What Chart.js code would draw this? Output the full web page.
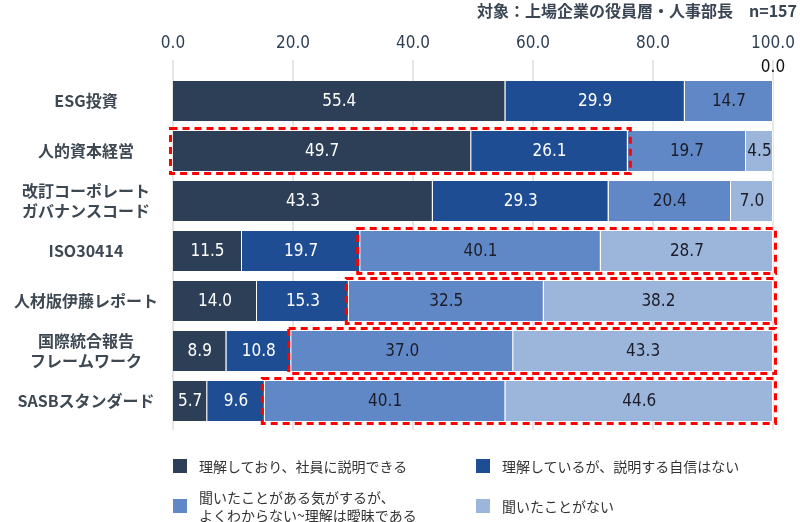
<!DOCTYPE html>
<html lang="ja">
<head>
<meta charset="utf-8">
<script src="https://cdn.jsdelivr.net/npm/chart.js@4.4.1/dist/chart.umd.min.js"></script>
<style>
  body { margin: 0; background: #fff; }
  #wrap { position: relative; width: 800px; height: 522px; }
  #title { position: absolute; right: 3px; top: 0; font: bold 16px "Noto Sans CJK JP", sans-serif; color: #3a4654; line-height: 20px; white-space: pre; }
  .lg { position: absolute; font: 14px "Noto Sans CJK JP", sans-serif; color: #333; line-height: 18px; }
  .lg i { position: absolute; width: 14px; height: 14px; left: 0; }
  .lg span { position: absolute; left: 26px; white-space: nowrap; }
</style>
</head>
<body>
<div id="wrap">
  <canvas id="chart"></canvas>
  <div id="title">対象：上場企業の役員層・人事部長　n=157</div>
  <div id="legend"></div>
</div>
<script>
var categories = ['ESG投資', '人的資本経営', ['改訂コーポレート', 'ガバナンスコード'], 'ISO30414', '人材版伊藤レポート', ['国際統合報告', 'フレームワーク'], 'SASBスタンダード'];
var seriesNames = ['理解しており、社員に説明できる', '理解しているが、説明する自信はない', '聞いたことがある気がするが、\nよくわからない~理解は曖昧である', '聞いたことがない'];
var understand = [55.4, 49.7, 43.3, 11.5, 14.0, 8.9, 5.7];
var noConfidence = [29.9, 26.1, 29.3, 19.7, 15.3, 10.8, 9.6];
var vague = [14.7, 19.7, 20.4, 40.1, 32.5, 37.0, 40.1];
var neverHeard = [0.0, 4.5, 7.0, 28.7, 38.2, 43.3, 44.6];
var xTicks = [0, 20, 40, 60, 80, 100];
// rows boxed in red: [row index, first series, last series]
var highlightRows = [[1, 0, 1], [3, 2, 3], [4, 2, 3], [5, 2, 3], [6, 2, 3]];

var colors = ['#2c3f56', '#1e4d94', '#6188c6', '#9cb5db'];
var labelColors = ['#ffffff', '#ffffff', '#1c1c28', '#1c1c28'];
var numFont = '"Liberation Sans Narrow", "DejaVu Sans Condensed", sans-serif';

var gridPlugin = {
    id: 'grid',
    beforeDatasetsDraw: function(chart) {
        var ctx = chart.ctx, x = chart.scales.x;
        ctx.save();
        ctx.strokeStyle = '#e6e6e6';
        ctx.lineWidth = 2;
        xTicks.forEach(function(v) {
            var px = Math.round(x.getPixelForValue(v));
            ctx.beginPath();
            ctx.moveTo(px, 60);
            ctx.lineTo(px, chart.chartArea.bottom + 4);
            ctx.stroke();
        });
        ctx.restore();
    }
};

var labelPlugin = {
    id: 'barLabels',
    afterDatasetsDraw: function(chart) {
        var ctx = chart.ctx;
        ctx.save();
        ctx.font = '17px ' + numFont;
        ctx.textAlign = 'center';
        ctx.textBaseline = 'middle';
        chart.data.datasets.forEach(function(ds, i) {
            chart.getDatasetMeta(i).data.forEach(function(bar, j) {
                var v = ds.data[j];
                if (v > 0) {
                    ctx.fillStyle = labelColors[i];
                    ctx.fillText(v.toFixed(1), (bar.x + bar.base) / 2, bar.y + 1);
                } else {
                    ctx.fillStyle = '#111';
                    ctx.fillText(v.toFixed(1), bar.x, bar.y - bar.height / 2 - 13);
                }
            });
        });

        // red dashed frames
        var x = chart.scales.x;
        ctx.strokeStyle = '#ff0000';
        ctx.lineWidth = 3;
        ctx.setLineDash([7, 5]);
        highlightRows.forEach(function(h) {
            var row = h[0];
            var start = 0, end = 0;
            chart.data.datasets.forEach(function(ds, i) {
                if (i < h[1]) start += ds.data[row];
                if (i <= h[2]) end += ds.data[row];
            });
            var bar = chart.getDatasetMeta(0).data[row];
            var x0 = x.getPixelForValue(start) - 2.5;
            var x1 = x.getPixelForValue(end) + 2.5;
            var y0 = bar.y - bar.height / 2 - 2.5;
            var y1 = bar.y + bar.height / 2 + 2.5;
            ctx.strokeRect(x0, y0, x1 - x0, y1 - y0);
        });
        ctx.restore();
    }
};

var datasets = [understand, noConfidence, vague, neverHeard].map(function(d, i) {
    return {
        label: seriesNames[i],
        data: d,
        backgroundColor: colors[i],
        borderColor: '#ffffff',
        borderWidth: { left: 0, right: 1, top: 0, bottom: 0 },
        borderSkipped: false,
        categoryPercentage: 1,
        barPercentage: 0.8
    };
});

var canvas = document.getElementById('chart');
canvas.width = 800; canvas.height = 522;

new Chart(canvas.getContext('2d'), {
    type: 'bar',
    data: { labels: categories, datasets: datasets },
    options: {
        indexAxis: 'y',
        responsive: false,
        animation: false,
        layout: { padding: { top: 0, left: 0, right: 27, bottom: 96 } },
        plugins: { legend: { display: false }, tooltip: { enabled: false } },
        scales: {
            x: {
                position: 'top',
                stacked: true,
                min: 0, max: 100,
                border: { display: false },
                grid: { display: false, drawTicks: false },
                afterFit: function(s) { s.height = 76; s.paddingLeft = 0; s.paddingRight = 0; },
                afterBuildTicks: function(s) { s.ticks = xTicks.map(function(v) { return { value: v }; }); },
                ticks: {
                    padding: 22,
                    color: '#2e3f55',
                    font: { family: numFont, size: 17 },
                    callback: function(v) { return Number(v).toFixed(1); }
                }
            },
            y: {
                stacked: true,
                border: { display: false },
                grid: { display: false, drawTicks: false },
                afterFit: function(s) { s.width = 173; s.paddingTop = 0; s.paddingBottom = 0; },
                ticks: {
                    crossAlign: 'center',
                    padding: 15,
                    color: '#3d4852',
                    font: { family: '"Noto Sans CJK JP", sans-serif', size: 16, weight: 'bold', lineHeight: 1.25 }
                }
            }
        }
    },
    plugins: [gridPlugin, labelPlugin]
});

// legend
var legendPos = [[173, 459], [476, 459], [173, 499], [476, 499]];
var lg = document.getElementById('legend');
seriesNames.forEach(function(name, i) {
    var lines = name.split('\n');
    var item = document.createElement('div');
    item.className = 'lg';
    item.style.left = legendPos[i][0] + 'px';
    item.style.top = legendPos[i][1] + 'px';
    var sq = document.createElement('i');
    sq.style.background = colors[i];
    item.appendChild(sq);
    var sp = document.createElement('span');
    sp.style.top = (7 - lines.length * 9) + 'px';
    sp.innerHTML = lines.join('<br>');
    item.appendChild(sp);
    lg.appendChild(item);
});
</script>
</body>
</html>
